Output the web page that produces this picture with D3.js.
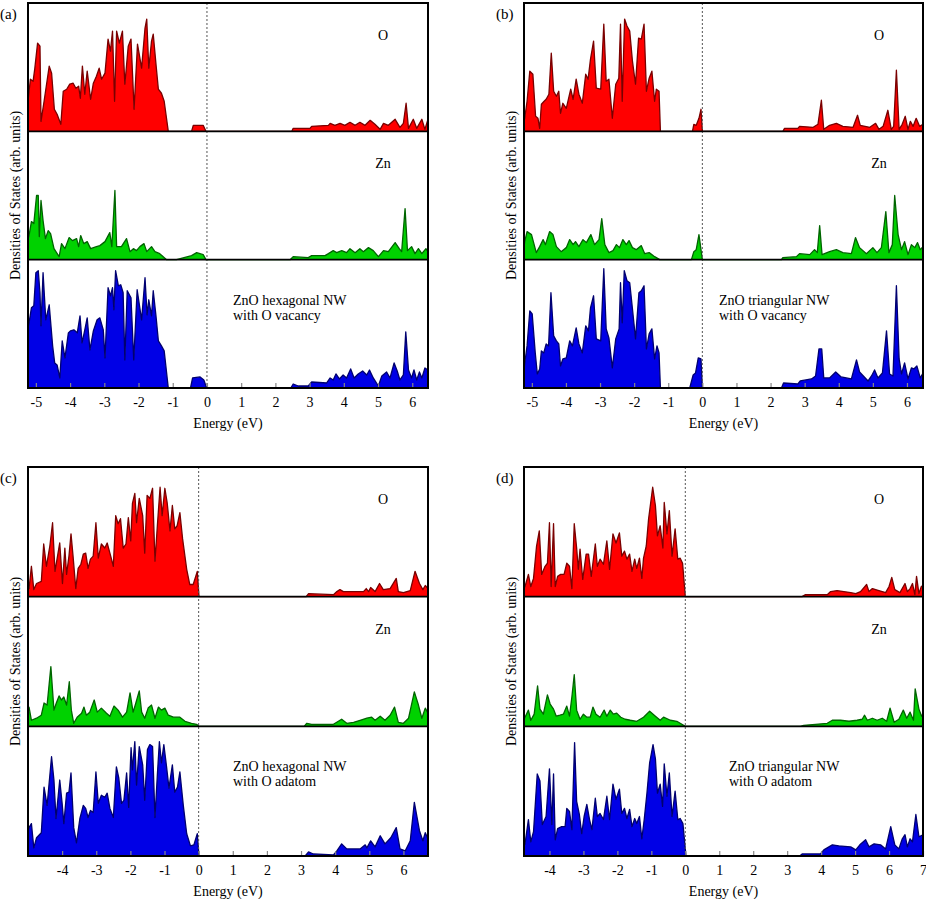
<!DOCTYPE html>
<html><head><meta charset="utf-8">
<script src="https://cdn.jsdelivr.net/npm/d3@7"></script>
<style>body{margin:0;background:#fff}svg{display:block}</style>
</head><body>
<script>
// ---------- DATA ----------
const panelLabels = ["(a)", "(b)", "(c)", "(d)"];
const speciesLabels = ["O", "Zn"];
const descLines = [["ZnO hexagonal NW", "with O vacancy"], ["ZnO triangular NW", "with O vacancy"],
                   ["ZnO hexagonal NW", "with O adatom"], ["ZnO triangular NW", "with O adatom"]];
const xDomainA = [-5.23, 6.46], xDomainB = [-5.23, 6.47], xDomainC = [-5.0, 6.72], xDomainD = [-4.75, 7.0];
const ticksA = [-5,-4,-3,-2,-1,0,1,2,3,4,5,6];
const ticksB = [-5,-4,-3,-2,-1,0,1,2,3,4,5,6];
const ticksC = [-4,-3,-2,-1,0,1,2,3,4,5,6];
const ticksD = [-4,-3,-2,-1,0,1,2,3,4,5,6,7];
const xTitle = "Energy (eV)";
const yTitle = "Densities of States (arb. units)";

// (a) hexagonal, O vacancy
const a_O = [[-5.23,30],[-5.16,52],[-5.08,50],[-5.03,63],[-4.95,88],[-4.88,85],[-4.85,10],[-4.76,30],[-4.61,65],[-4.54,58],[-4.46,22],[-4.38,17],[-4.27,7],[-4.20,40],[-4.10,42],[-4.01,47],[-3.91,48],[-3.83,43],[-3.75,45],[-3.70,33],[-3.64,65],[-3.57,37],[-3.50,60],[-3.40,32],[-3.32,48],[-3.23,55],[-3.15,63],[-3.08,52],[-2.98,58],[-2.89,92],[-2.82,80],[-2.76,100],[-2.70,30],[-2.64,100],[-2.56,88],[-2.47,100],[-2.40,47],[-2.30,85],[-2.22,92],[-2.13,22],[-2.03,87],[-1.91,63],[-1.81,103],[-1.76,112],[-1.70,63],[-1.62,90],[-1.57,97],[-1.49,67],[-1.42,42],[-1.33,38],[-1.25,30],[-1.13,0],[-0.45,0],[-0.40,6],[-0.11,6],[-0.03,0],[2.48,0],[2.52,3],[3.01,3],[3.06,5],[3.55,6],[3.60,8],[3.74,6],[3.89,8],[4.03,6],[4.18,9],[4.33,6],[4.47,9],[4.62,6],[4.77,11],[4.91,7],[5.06,2],[5.16,8],[5.30,6],[5.50,12],[5.64,4],[5.74,8],[5.82,28],[5.89,3],[6.03,12],[6.13,3],[6.28,12],[6.37,2],[6.46,12]];
const a_Zn = [[-5.23,20],[-5.19,26],[-5.13,38],[-5.06,36],[-4.98,64],[-4.93,64],[-4.90,23],[-4.85,59],[-4.79,39],[-4.72,21],[-4.64,29],[-4.57,26],[-4.47,11],[-4.32,3],[-4.25,16],[-4.15,11],[-4.03,22],[-3.93,19],[-3.81,21],[-3.75,13],[-3.69,24],[-3.60,16],[-3.50,18],[-3.40,11],[-3.23,13],[-3.13,14],[-2.98,18],[-2.84,27],[-2.78,13],[-2.69,69],[-2.64,13],[-2.50,13],[-2.35,21],[-2.25,8],[-2.15,11],[-2.06,9],[-1.96,13],[-1.84,16],[-1.76,8],[-1.62,13],[-1.52,8],[-1.38,6],[-1.18,0],[-0.89,0],[-0.45,4],[-0.30,7],[-0.11,5],[-0.03,0],[2.43,0],[2.52,3],[2.96,2],[3.06,4],[3.45,4],[3.55,6],[3.69,9],[3.79,7],[3.94,9],[4.08,7],[4.18,11],[4.33,7],[4.47,11],[4.57,8],[4.72,12],[4.86,9],[5.01,3],[5.16,9],[5.30,8],[5.50,17],[5.62,11],[5.69,8],[5.79,51],[5.86,9],[5.98,13],[6.08,6],[6.18,11],[6.28,6],[6.40,11],[6.46,8]];
const a_tot = [[-5.23,60],[-5.19,67],[-5.13,80],[-5.06,82],[-5.00,115],[-4.93,117],[-4.88,95],[-4.85,62],[-4.79,115],[-4.71,68],[-4.61,83],[-4.51,42],[-4.45,25],[-4.38,23],[-4.30,10],[-4.23,47],[-4.15,30],[-4.05,55],[-3.99,57],[-3.89,58],[-3.79,55],[-3.71,72],[-3.65,45],[-3.57,58],[-3.50,70],[-3.42,38],[-3.32,57],[-3.21,68],[-3.13,70],[-3.03,58],[-2.98,30],[-2.89,100],[-2.82,92],[-2.76,100],[-2.72,78],[-2.67,117],[-2.59,102],[-2.52,103],[-2.45,95],[-2.40,28],[-2.33,97],[-2.22,90],[-2.14,28],[-2.04,98],[-1.91,68],[-1.81,110],[-1.75,73],[-1.70,88],[-1.62,72],[-1.57,97],[-1.49,72],[-1.42,47],[-1.33,42],[-1.25,37],[-1.13,0],[-0.48,0],[-0.42,10],[-0.20,11],[-0.09,8],[-0.01,0],[2.45,0],[2.52,4],[2.67,2],[2.96,2],[3.06,6],[3.50,5],[3.60,10],[3.69,8],[3.77,14],[3.87,9],[3.98,13],[4.08,10],[4.20,19],[4.30,10],[4.42,14],[4.55,17],[4.67,13],[4.75,18],[4.86,10],[5.01,2],[5.11,12],[5.25,16],[5.35,10],[5.47,25],[5.56,17],[5.64,8],[5.74,13],[5.81,56],[5.89,18],[5.98,10],[6.05,18],[6.13,8],[6.21,16],[6.28,10],[6.37,20],[6.46,18]];

// (b) triangular, O vacancy
const b_O = [[-5.23,10],[-5.21,13],[-5.14,30],[-5.06,60],[-4.97,57],[-4.89,15],[-4.82,13],[-4.77,3],[-4.72,27],[-4.64,30],[-4.58,32],[-4.50,37],[-4.43,78],[-4.36,40],[-4.28,35],[-4.21,40],[-4.16,18],[-4.09,28],[-3.99,23],[-3.86,42],[-3.79,32],[-3.70,52],[-3.62,37],[-3.52,28],[-3.42,57],[-3.35,52],[-3.28,72],[-3.19,90],[-3.11,43],[-2.98,42],[-2.89,107],[-2.82,50],[-2.74,52],[-2.64,13],[-2.54,47],[-2.45,53],[-2.40,107],[-2.35,30],[-2.28,112],[-2.21,105],[-2.13,100],[-2.05,70],[-1.96,47],[-1.87,93],[-1.79,92],[-1.71,107],[-1.64,40],[-1.56,53],[-1.48,60],[-1.40,30],[-1.35,42],[-1.27,40],[-1.23,0],[-0.29,0],[-0.25,7],[-0.18,6],[-0.10,13],[-0.04,22],[0.0,0],[2.36,0],[2.41,3],[2.80,3],[2.85,5],[3.25,4],[3.39,7],[3.49,31],[3.56,2],[3.73,6],[3.93,8],[4.12,5],[4.42,4],[4.55,16],[4.63,6],[4.91,4],[5.08,8],[5.18,2],[5.30,5],[5.44,21],[5.54,2],[5.61,5],[5.69,61],[5.77,2],[5.86,7],[5.95,15],[6.03,2],[6.10,10],[6.18,5],[6.27,13],[6.37,5],[6.47,7]];
const b_Zn = [[-5.23,12],[-5.21,18],[-5.14,28],[-5.01,25],[-4.87,7],[-4.77,13],[-4.67,20],[-4.60,15],[-4.48,28],[-4.38,25],[-4.28,13],[-4.14,8],[-3.99,12],[-3.89,20],[-3.79,15],[-3.72,18],[-3.62,13],[-3.50,20],[-3.40,17],[-3.27,25],[-3.16,15],[-3.03,20],[-2.95,41],[-2.86,15],[-2.74,7],[-2.62,9],[-2.52,15],[-2.43,12],[-2.33,20],[-2.23,15],[-2.15,19],[-2.05,12],[-1.94,10],[-1.79,14],[-1.69,6],[-1.56,7],[-1.40,3],[-1.25,0],[-0.32,0],[-0.25,8],[-0.18,10],[-0.10,25],[-0.04,10],[0.0,0],[2.32,0],[2.36,2],[2.76,3],[2.85,6],[3.15,5],[3.29,10],[3.37,7],[3.44,34],[3.51,5],[3.73,8],[3.93,10],[4.12,7],[4.37,6],[4.49,22],[4.61,12],[4.81,6],[5.00,12],[5.12,7],[5.25,12],[5.38,48],[5.47,7],[5.57,15],[5.64,64],[5.74,25],[5.84,10],[5.93,18],[6.03,5],[6.13,15],[6.23,12],[6.31,17],[6.39,10],[6.47,13]];
const b_tot = [[-5.23,18],[-5.21,24],[-5.14,42],[-5.06,77],[-4.99,74],[-4.90,35],[-4.84,14],[-4.77,19],[-4.72,37],[-4.65,35],[-4.58,44],[-4.51,42],[-4.44,95],[-4.36,52],[-4.28,47],[-4.21,44],[-4.16,22],[-4.09,29],[-3.99,30],[-3.89,47],[-3.81,42],[-3.70,60],[-3.62,44],[-3.52,35],[-3.42,62],[-3.34,57],[-3.28,80],[-3.19,92],[-3.11,49],[-2.98,47],[-2.89,119],[-2.82,59],[-2.74,50],[-2.64,20],[-2.54,49],[-2.44,59],[-2.40,105],[-2.35,65],[-2.29,117],[-2.21,107],[-2.13,105],[-2.05,79],[-1.96,49],[-1.86,95],[-1.79,97],[-1.71,102],[-1.64,39],[-1.56,54],[-1.48,59],[-1.40,29],[-1.33,42],[-1.27,35],[-1.23,0],[-0.37,0],[-0.27,13],[-0.20,15],[-0.12,30],[-0.04,29],[0.0,0],[2.32,0],[2.38,5],[2.80,4],[2.87,7],[3.20,9],[3.32,12],[3.42,39],[3.50,39],[3.56,10],[3.73,10],[3.91,16],[4.07,11],[4.37,9],[4.52,28],[4.61,16],[4.86,7],[4.96,12],[5.05,18],[5.15,10],[5.28,15],[5.40,57],[5.49,14],[5.59,12],[5.69,102],[5.77,29],[5.84,14],[5.93,25],[6.03,9],[6.13,20],[6.20,19],[6.29,22],[6.39,10],[6.47,15]];

// (c) hexagonal, O adatom
const c_O = [[-5.0,10],[-4.97,8],[-4.90,30],[-4.83,7],[-4.75,13],[-4.61,15],[-4.54,52],[-4.46,30],[-4.36,50],[-4.28,73],[-4.21,25],[-4.12,43],[-4.07,53],[-3.99,13],[-3.92,48],[-3.87,22],[-3.80,40],[-3.74,62],[-3.68,40],[-3.60,8],[-3.53,28],[-3.45,32],[-3.38,42],[-3.31,43],[-3.24,28],[-3.17,37],[-3.09,40],[-3.01,73],[-2.94,38],[-2.85,52],[-2.75,48],[-2.68,53],[-2.60,43],[-2.50,30],[-2.43,80],[-2.36,72],[-2.29,77],[-2.21,48],[-2.13,52],[-2.06,78],[-1.99,55],[-1.94,92],[-1.87,102],[-1.82,73],[-1.74,97],[-1.64,80],[-1.58,43],[-1.51,100],[-1.43,97],[-1.35,107],[-1.28,35],[-1.21,70],[-1.13,108],[-1.07,80],[-0.99,107],[-0.92,92],[-0.84,65],[-0.77,90],[-0.70,67],[-0.63,70],[-0.55,83],[-0.47,57],[-0.35,27],[-0.26,12],[-0.16,12],[-0.04,25],[0.01,0],[3.15,0],[3.22,3],[3.95,2],[4.05,5],[4.14,7],[4.24,5],[4.83,5],[4.91,8],[4.98,5],[5.04,9],[5.17,5],[5.30,13],[5.41,7],[5.61,8],[5.79,18],[5.85,5],[6.0,4],[6.20,6],[6.34,25],[6.47,13],[6.57,7],[6.64,11],[6.72,8]];
const c_Zn = [[-5.0,18],[-4.97,19],[-4.90,6],[-4.75,8],[-4.61,11],[-4.53,23],[-4.44,21],[-4.33,59],[-4.24,16],[-4.17,23],[-4.09,30],[-4.02,26],[-3.95,29],[-3.87,21],[-3.79,44],[-3.73,16],[-3.66,3],[-3.56,9],[-3.43,13],[-3.36,19],[-3.29,11],[-3.19,14],[-3.06,26],[-2.97,14],[-2.85,18],[-2.70,13],[-2.60,10],[-2.48,20],[-2.36,16],[-2.23,9],[-2.11,14],[-2.01,33],[-1.92,14],[-1.84,23],[-1.74,35],[-1.67,14],[-1.58,8],[-1.48,18],[-1.38,21],[-1.28,8],[-1.18,19],[-1.09,16],[-0.99,18],[-0.89,11],[-0.74,9],[-0.55,9],[-0.40,5],[-0.21,3],[-0.06,2],[0.0,0],[3.09,0],[3.17,3],[3.31,2],[3.95,2],[4.19,7],[4.34,3],[4.54,4],[4.73,6],[4.93,8],[5.07,9],[5.17,6],[5.32,10],[5.46,6],[5.61,11],[5.74,19],[5.85,4],[6.0,3],[6.15,8],[6.32,34],[6.44,21],[6.54,8],[6.64,18],[6.72,13]];
const c_tot = [[-5.0,25],[-4.97,28],[-4.90,32],[-4.83,8],[-4.75,18],[-4.61,23],[-4.53,68],[-4.44,50],[-4.31,98],[-4.24,75],[-4.18,37],[-4.07,75],[-4.00,52],[-3.95,32],[-3.87,62],[-3.80,63],[-3.74,82],[-3.66,28],[-3.58,13],[-3.48,37],[-3.38,50],[-3.31,47],[-3.24,38],[-3.17,45],[-3.09,43],[-3.01,83],[-2.94,52],[-2.85,60],[-2.75,58],[-2.68,62],[-2.60,47],[-2.50,38],[-2.41,88],[-2.34,77],[-2.26,52],[-2.19,55],[-2.11,82],[-2.05,48],[-1.98,107],[-1.94,85],[-1.87,113],[-1.82,70],[-1.74,108],[-1.64,90],[-1.58,55],[-1.50,105],[-1.43,110],[-1.35,108],[-1.28,38],[-1.21,80],[-1.15,113],[-1.09,92],[-1.02,110],[-0.94,88],[-0.87,67],[-0.77,90],[-0.70,63],[-0.62,68],[-0.55,83],[-0.45,50],[-0.35,22],[-0.24,10],[-0.14,11],[-0.04,22],[0.01,0],[3.12,0],[3.22,4],[3.36,2],[3.95,1],[4.05,5],[4.19,12],[4.34,7],[4.73,7],[4.88,11],[4.93,8],[5.04,15],[5.17,9],[5.32,20],[5.46,12],[5.63,18],[5.79,28],[5.90,7],[6.05,5],[6.20,15],[6.32,53],[6.47,25],[6.57,15],[6.64,23],[6.72,17]];

// (d) triangular, O adatom
const d_O = [[-4.75,8],[-4.72,10],[-4.62,22],[-4.55,10],[-4.47,18],[-4.38,50],[-4.30,65],[-4.23,22],[-4.13,30],[-4.06,33],[-4.00,73],[-3.95,10],[-3.88,72],[-3.83,10],[-3.76,20],[-3.67,22],[-3.57,22],[-3.49,33],[-3.41,30],[-3.34,8],[-3.27,72],[-3.20,48],[-3.15,27],[-3.10,47],[-3.02,17],[-2.92,42],[-2.85,42],[-2.77,20],[-2.65,52],[-2.59,30],[-2.51,37],[-2.41,32],[-2.31,55],[-2.23,27],[-2.13,62],[-2.04,53],[-1.94,63],[-1.87,40],[-1.79,45],[-1.72,37],[-1.64,42],[-1.57,25],[-1.49,37],[-1.43,28],[-1.35,38],[-1.28,18],[-1.23,38],[-1.15,50],[-1.08,77],[-0.96,108],[-0.88,90],[-0.82,60],[-0.74,70],[-0.66,48],[-0.62,93],[-0.54,62],[-0.47,85],[-0.39,40],[-0.30,67],[-0.22,37],[-0.15,38],[-0.08,33],[0.0,0],[3.44,0],[3.54,2],[4.18,2],[4.28,5],[4.47,6],[4.87,4],[5.02,3],[5.16,5],[5.34,12],[5.41,5],[5.51,8],[5.70,6],[5.90,4],[6.00,10],[6.08,19],[6.17,7],[6.32,4],[6.47,13],[6.54,5],[6.62,8],[6.69,13],[6.76,2],[6.81,20],[6.88,3],[6.95,10],[7.0,11]];
const d_Zn = [[-4.75,7],[-4.72,9],[-4.62,16],[-4.55,6],[-4.45,12],[-4.35,40],[-4.28,17],[-4.18,12],[-4.06,31],[-3.98,22],[-3.88,17],[-3.80,10],[-3.69,11],[-3.59,12],[-3.49,20],[-3.41,10],[-3.34,29],[-3.27,51],[-3.20,16],[-3.10,7],[-3.00,12],[-2.90,9],[-2.80,9],[-2.72,19],[-2.63,12],[-2.51,9],[-2.39,16],[-2.31,10],[-2.21,16],[-2.12,12],[-2.02,13],[-1.90,9],[-1.77,7],[-1.62,6],[-1.43,5],[-1.23,9],[-1.05,15],[-0.88,10],[-0.74,6],[-0.64,9],[-0.44,6],[-0.25,5],[0.0,0],[3.39,0],[3.49,1],[4.18,3],[4.33,6],[4.57,6],[4.82,5],[5.06,6],[5.21,7],[5.28,11],[5.36,6],[5.51,8],[5.65,6],[5.80,8],[5.93,5],[6.03,18],[6.15,4],[6.29,7],[6.42,16],[6.52,8],[6.62,14],[6.72,6],[6.77,37],[6.88,17],[6.96,10],[7.0,12]];
const d_tot = [[-4.75,10],[-4.72,12],[-4.62,36],[-4.55,14],[-4.47,24],[-4.36,81],[-4.28,74],[-4.21,31],[-4.10,39],[-4.00,86],[-3.93,31],[-3.88,81],[-3.83,16],[-3.76,27],[-3.64,29],[-3.54,29],[-3.49,47],[-3.41,44],[-3.34,26],[-3.26,112],[-3.20,54],[-3.12,41],[-3.05,22],[-2.98,39],[-2.90,51],[-2.82,36],[-2.75,26],[-2.65,57],[-2.59,39],[-2.51,42],[-2.41,36],[-2.31,59],[-2.23,36],[-2.13,71],[-2.04,56],[-1.94,66],[-1.87,42],[-1.79,47],[-1.72,37],[-1.64,46],[-1.57,29],[-1.49,37],[-1.43,32],[-1.35,39],[-1.28,17],[-1.21,36],[-1.13,62],[-1.05,92],[-0.95,110],[-0.88,96],[-0.82,62],[-0.74,71],[-0.67,49],[-0.62,91],[-0.54,59],[-0.47,82],[-0.39,39],[-0.30,64],[-0.22,36],[-0.15,37],[-0.07,32],[0.02,0],[3.37,0],[3.44,2],[3.98,2],[4.08,6],[4.33,11],[4.52,10],[4.87,9],[5.02,6],[5.14,11],[5.31,16],[5.41,9],[5.56,12],[5.75,11],[5.90,7],[6.05,29],[6.17,11],[6.29,7],[6.39,17],[6.47,21],[6.54,9],[6.62,17],[6.69,14],[6.79,41],[6.88,19],[7.0,21]];

// ---------- DRAWING ----------
const FONT = "'Liberation Serif', 'Times New Roman', Times, 'DejaVu Serif', serif";
const panels = [
  {label: panelLabels[0], desc: descLines[0], dom: xDomainA, ticks: ticksA, series: [a_O, a_Zn, a_tot], box: {l: 28, r: 428, t: 3, b: 388}, descX: 205},
  {label: panelLabels[1], desc: descLines[1], dom: xDomainB, ticks: ticksB, series: [b_O, b_Zn, b_tot], box: {l: 524, r: 923, t: 3, b: 388}, descX: 195},
  {label: panelLabels[2], desc: descLines[2], dom: xDomainC, ticks: ticksC, series: [c_O, c_Zn, c_tot], box: {l: 28, r: 428, t: 467, b: 856}, descX: 205},
  {label: panelLabels[3], desc: descLines[3], dom: xDomainD, ticks: ticksD, series: [d_O, d_Zn, d_tot], box: {l: 524, r: 923, t: 467, b: 856}, descX: 205}
];
const fills = ["#ff0000", "#00d200", "#0000e6"];
const strokes = ["#7a0000", "#006400", "#000070"];
const yMax = 128;

const svg = d3.select("body").append("svg").attr("width", 926).attr("height", 899)
  .attr("font-family", FONT);

function txt(sel) { return sel.append("text").attr("font-family", FONT).attr("fill", "#000"); }

panels.forEach((p, pi) => {
  const B = p.box;
  const g = svg.append("g");
  const x = d3.scaleLinear().domain(p.dom).range([B.l, B.r]);
  const subH = (B.b - B.t) / 3;
  const clipId = "clip" + pi;
  svg.append("clipPath").attr("id", clipId).append("rect")
    .attr("x", B.l).attr("y", B.t).attr("width", B.r - B.l).attr("height", B.b - B.t);

  p.series.forEach((data, si) => {
    const top = B.t + si * subH, bot = top + subH;
    const y = d3.scaleLinear().domain([0, yMax]).range([bot, top]);
    const gg = g.append("g").attr("clip-path", `url(#${clipId})`);
    gg.append("path").datum(data)
      .attr("d", d3.area().x(d => x(d[0])).y0(y(0)).y1(d => y(d[1])))
      .attr("fill", fills[si]);
    gg.append("path").datum(data)
      .attr("d", d3.line().x(d => x(d[0])).y(d => y(d[1])))
      .attr("fill", "none").attr("stroke", strokes[si]).attr("stroke-width", 1.3).attr("stroke-linejoin", "round");
    if (si < 2) {
      txt(g).attr("x", B.l + 355).attr("y", top + 37).attr("text-anchor", "middle")
        .attr("font-size", 14).text(speciesLabels[si]);
    } else {
      p.desc.forEach((t, li) => {
        txt(g).attr("x", B.l + p.descX).attr("y", top + 45 + li * 15).attr("font-size", 14).text(t);
      });
    }
  });

  // Fermi level line
  g.append("line").attr("x1", x(0)).attr("x2", x(0)).attr("y1", B.t).attr("y2", B.b)
    .attr("stroke", "#555").attr("stroke-width", 1).attr("stroke-dasharray", "2,2");

  // separators
  [1, 2].forEach(k => {
    g.append("line").attr("x1", B.l).attr("x2", B.r).attr("y1", B.t + k * subH).attr("y2", B.t + k * subH)
      .attr("stroke", "#000").attr("stroke-width", 1.6);
  });

  // axis
  const ax = g.append("g").attr("transform", `translate(0,${B.b})`)
    .call(d3.axisBottom(x).tickValues(p.ticks).tickSize(-5).tickPadding(9).tickFormat(d => String(d)));
  ax.attr("font-family", FONT).attr("font-size", 14);
  ax.select(".domain").remove();
  ax.selectAll(".tick line").attr("stroke", "#888").attr("stroke-width", 1.2);
  ax.selectAll(".tick text").attr("font-size", 14).attr("font-family", FONT).attr("fill", "#000");

  g.append("rect").attr("x", B.l).attr("y", B.t).attr("width", B.r - B.l).attr("height", B.b - B.t)
    .attr("fill", "none").attr("stroke", "#000").attr("stroke-width", 2);

  txt(g).attr("x", (B.l + B.r) / 2).attr("y", B.b + 40).attr("text-anchor", "middle")
    .attr("font-size", 14).text(xTitle);
  const yc = (B.t + B.b) / 2;
  txt(g).attr("transform", `translate(${B.l - 8},${yc}) rotate(-90)`).attr("text-anchor", "middle")
    .attr("font-size", 14).text(yTitle);
  txt(g).attr("x", B.l - 28).attr("y", B.t + 16).attr("font-size", 15).text(p.label);
});
</script>
</body></html>
